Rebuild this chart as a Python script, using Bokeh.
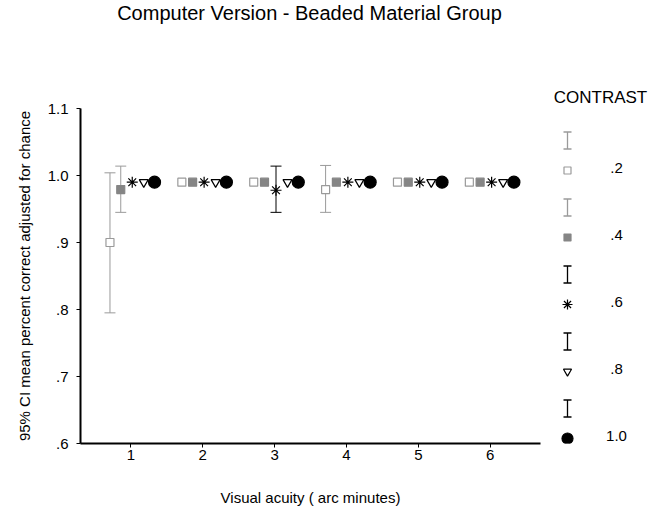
from bokeh.plotting import figure
from bokeh.models import ColumnDataSource, Whisker, TeeHead, FixedTicker, Range1d
from bokeh.layouts import column, row
from bokeh.embed import file_html
from bokeh.resources import INLINE
from bokeh.core.properties import value

# ---------------- data ----------------
acuity = [1, 2, 3, 4, 5, 6]
contrast_labels = [".2", ".4", ".6", ".8", "1.0"]

mean_c02 = [0.900, 0.990, 0.990, 0.979, 0.990, 0.990]
mean_c04 = [0.979, 0.990, 0.990, 0.990, 0.990, 0.990]
mean_c06 = [0.990, 0.990, 0.978, 0.990, 0.990, 0.990]
mean_c08 = [0.990, 0.990, 0.990, 0.990, 0.990, 0.990]
mean_c10 = [0.990, 0.990, 0.990, 0.990, 0.990, 0.990]

lo_c02 = [0.795, 0.990, 0.990, 0.945, 0.990, 0.990]
hi_c02 = [1.004, 0.990, 0.990, 1.015, 0.990, 0.990]
lo_c04 = [0.945, 0.990, 0.990, 0.990, 0.990, 0.990]
hi_c04 = [1.014, 0.990, 0.990, 0.990, 0.990, 0.990]
lo_c06 = [0.990, 0.990, 0.945, 0.990, 0.990, 0.990]
hi_c06 = [0.990, 0.990, 1.014, 0.990, 0.990, 0.990]
lo_c08 = [0.990, 0.990, 0.990, 0.990, 0.990, 0.990]
hi_c08 = [0.990, 0.990, 0.990, 0.990, 0.990, 0.990]
lo_c10 = [0.990, 0.990, 0.990, 0.990, 0.990, 0.990]
hi_c10 = [0.990, 0.990, 0.990, 0.990, 0.990, 0.990]

y_ticks = [0.6, 0.7, 0.8, 0.9, 1.0, 1.1]
y_tick_labels = [".6", ".7", ".8", ".9", "1.0", "1.1"]

title_text = "Computer Version - Beaded Material Group"
x_label = "Visual acuity ( arc minutes)"
y_label = "95% CI mean percent correct adjusted for chance"
legend_title = "CONTRAST"

# ---------------- styles ----------------
FONT = "Liberation Sans"
GRAY = "#9a9a9a"
series = [
    dict(mean=mean_c02, lo=lo_c02, hi=hi_c02, marker="square", size=8,
         fill="white", line=GRAY, bar=GRAY, dx=-0.29),
    dict(mean=mean_c04, lo=lo_c04, hi=hi_c04, marker="square", size=8,
         fill="#858585", line="#858585", bar=GRAY, dx=-0.14),
    dict(mean=mean_c06, lo=lo_c06, hi=hi_c06, marker="asterisk", size=11,
         fill="black", line="black", bar="black", dx=0.02),
    dict(mean=mean_c08, lo=lo_c08, hi=hi_c08, marker="inverted_triangle", size=9,
         fill="white", line="black", bar="black", dx=0.18),
    dict(mean=mean_c10, lo=lo_c10, hi=hi_c10, marker="circle", size=12,
         fill="black", line="black", bar="black", dx=0.33),
]

# ---------------- header (title) ----------------
head = figure(width=652, height=30, x_range=Range1d(0, 652), y_range=Range1d(30, 0),
              output_backend="svg", toolbar_location=None,
              x_axis_type=None, y_axis_type=None,
              min_border_left=0, min_border_right=0, min_border_top=0, min_border_bottom=0)
head.outline_line_color = None
head.grid.visible = False
head.text(x=[309], y=[1], text=[title_text], text_font=value(FONT),
          text_font_size=value("20px"), text_align="center", text_baseline="top",
          text_color="black")

# ---------------- main plot ----------------
p = figure(width=548, height=479, x_range=Range1d(0.3, 6.7), y_range=Range1d(0.6, 1.1),
           output_backend="svg", toolbar_location=None,
           min_border_left=80, min_border_right=8, min_border_top=78, min_border_bottom=66)
p.outline_line_color = None
p.grid.visible = False

for s in series:
    xs = [a + s["dx"] for a in acuity]
    idx = [i for i in range(len(acuity)) if s["hi"][i] > s["lo"][i]]
    if idx:
        wsrc = ColumnDataSource(dict(base=[xs[i] for i in idx],
                                     lower=[s["lo"][i] for i in idx],
                                     upper=[s["hi"][i] for i in idx]))
        w = Whisker(source=wsrc, base="base", lower="lower", upper="upper",
                    dimension="height", line_color=s["bar"], line_width=1,
                    upper_head=TeeHead(size=11, line_color=s["bar"], line_width=1),
                    lower_head=TeeHead(size=11, line_color=s["bar"], line_width=1))
        p.add_layout(w)
    p.scatter(x=xs, y=s["mean"], marker=s["marker"], size=s["size"],
              fill_color=s["fill"], line_color=s["line"], line_width=1.2)

p.xaxis.ticker = FixedTicker(ticks=acuity)
p.yaxis.ticker = FixedTicker(ticks=y_ticks)
p.yaxis.major_label_overrides = {t: l for t, l in zip(y_ticks, y_tick_labels)}
for ax in (p.xaxis[0], p.yaxis[0]):
    ax.axis_line_color = "black"
    ax.axis_line_width = 2
    ax.major_tick_line_color = "black"
    ax.major_tick_out = 4
    ax.major_tick_in = 0
    ax.minor_tick_line_color = None
    ax.major_label_text_font = FONT
    ax.major_label_text_font_size = "15px"
    ax.major_label_text_color = "black"
    ax.axis_label_text_font = FONT
    ax.axis_label_text_font_size = "15px"
    ax.axis_label_text_font_style = "normal"
    ax.axis_label_text_color = "black"
p.xaxis.axis_label = x_label
p.yaxis.axis_label = y_label
p.xaxis.major_label_standoff = 2
p.xaxis.axis_label_standoff = 26
p.yaxis.major_label_standoff = 8
p.yaxis.axis_label_standoff = 12

# ---------------- legend panel ----------------
leg = figure(width=104, height=479, x_range=Range1d(548, 652), y_range=Range1d(443, 108),
             output_backend="svg", toolbar_location=None,
             x_axis_type=None, y_axis_type=None, title=legend_title,
             min_border_left=0, min_border_right=0, min_border_top=78, min_border_bottom=66)
leg.outline_line_color = None
leg.grid.visible = False
leg.title.align = "center"
leg.title.text_font = FONT
leg.title.text_font_size = "17px"
leg.title.text_font_style = "normal"
leg.title.text_color = "black"
leg.title.standoff = 4

LX, LBLX = 567, 616
for i, (s, lab) in enumerate(zip(series, contrast_labels)):
    by = 140 + 67 * i
    my = by + 30
    wsrc = ColumnDataSource(dict(base=[LX], lower=[by + 8.5], upper=[by - 8.5]))
    leg.add_layout(Whisker(source=wsrc, base="base", lower="lower", upper="upper",
                           dimension="height", line_color=s["bar"], line_width=1.3,
                           upper_head=TeeHead(size=8, line_color=s["bar"], line_width=1.3),
                           lower_head=TeeHead(size=8, line_color=s["bar"], line_width=1.3)))
    leg.scatter(x=[LX], y=[my], marker=s["marker"], size=s["size"] - 1,
                fill_color=s["fill"], line_color=s["line"], line_width=1.2)
    leg.text(x=[LBLX], y=[my - 3], text=[lab], text_font=value(FONT),
             text_font_size=value("15px"), text_align="center", text_baseline="middle",
             text_color="black")

layout = column(head, row(p, leg))
open("out.html", "w").write(file_html(layout, INLINE))
